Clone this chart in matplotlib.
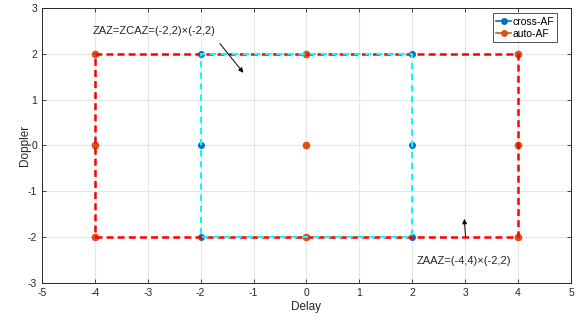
import matplotlib
matplotlib.use("Agg")
import matplotlib.pyplot as plt
from matplotlib.lines import Line2D

plt.rcParams['font.family'] = ['Liberation Sans', 'DejaVu Sans']
plt.rcParams['axes.unicode_minus'] = False
plt.rcParams['lines.scale_dashes'] = False

# data
cross_x = [-2, 2, -2, 2, -2, 2]
cross_y = [2, 2, 0, 0, -2, -2]
auto_x = [-4, 0, 4, -4, 0, 4, -4, 0, 4]
auto_y = [2, 2, 2, 0, 0, 0, -2, -2, -2]
auto_rect_x = [-4, 4, 4, -4, -4]
auto_rect_y = [-2, -2, 2, 2, -2]
cross_rect_x = [-2, 2, 2, -2, -2]
cross_rect_y = [-2, -2, 2, 2, -2]
xticks = list(range(-5, 6))
yticks = list(range(-3, 4))

blue = '#0072BD'
orange = '#D95319'

fig = plt.figure(figsize=(5.84, 3.22), dpi=100)
ax = fig.add_axes([0.0719, 0.1211, 0.9058, 0.8541])

ax.plot(cross_x, cross_y, 'o', color=blue, markersize=4, zorder=3)
ax.plot(auto_x, auto_y, 'o', color=orange, markersize=4.5, zorder=3)
ax.plot(auto_rect_x, auto_rect_y, color='red', linewidth=1.8, zorder=4,
        linestyle=(0, (5.0, 3.0)), dash_capstyle='butt')
ax.plot(cross_rect_x, cross_rect_y, color='cyan', linewidth=1.5, zorder=5,
        linestyle=(7.18, (4.5, 3.5)), dash_capstyle='butt')

ax.set_xlim(-5, 5)
ax.set_ylim(-3, 3)
ax.set_xticks(xticks)
ax.set_yticks(yticks)
ax.tick_params(direction='in', labelsize=7.5, length=3, top=True, right=True, width=0.6, colors='#262626')
ax.grid(True, color='#e6e6e6', linewidth=0.8)
ax.set_axisbelow(True)
for s in ax.spines.values():
    s.set_linewidth(0.7)
    s.set_color('#262626')
ax.set_xlabel('Delay', fontsize=8.5, color='#262626', labelpad=2)
ax.set_ylabel('Doppler', fontsize=8.5, color='#262626', labelpad=-2)

ax.annotate('', xy=(-1.16, 1.54), xytext=(-1.67, 2.27),
            arrowprops=dict(arrowstyle='-|>', color='black', lw=0.7, mutation_scale=7), zorder=6)
ax.text(-4.05, 2.5, 'ZAZ=ZCAZ=(-2,2)\u00d7(-2,2)', fontsize=8, va='center', ha='left', color='#262626')
ax.annotate('', xy=(2.98, -1.54), xytext=(3.01, -2.05),
            arrowprops=dict(arrowstyle='-|>', color='black', lw=0.7, mutation_scale=7), zorder=6)
ax.text(2.09, -2.52, 'ZAAZ=(-4,4)\u00d7(-2,2)', fontsize=8, va='center', ha='left', color='#262626')

handles = [Line2D([], [], color=blue, marker='o', markersize=4, lw=1.2),
           Line2D([], [], color=orange, marker='o', markersize=4, lw=1.2)]
leg = ax.legend(handles, ['cross-AF', 'auto-AF'], loc='upper right', bbox_to_anchor=(0.974, 0.98),
                fontsize=7.5, frameon=True, fancybox=False, edgecolor='#262626',
                handlelength=1.5, handletextpad=0.1, borderpad=0.3, labelspacing=0.2,
                borderaxespad=0)
leg.get_frame().set_linewidth(0.7)

fig.savefig('out.png', dpi=100)
